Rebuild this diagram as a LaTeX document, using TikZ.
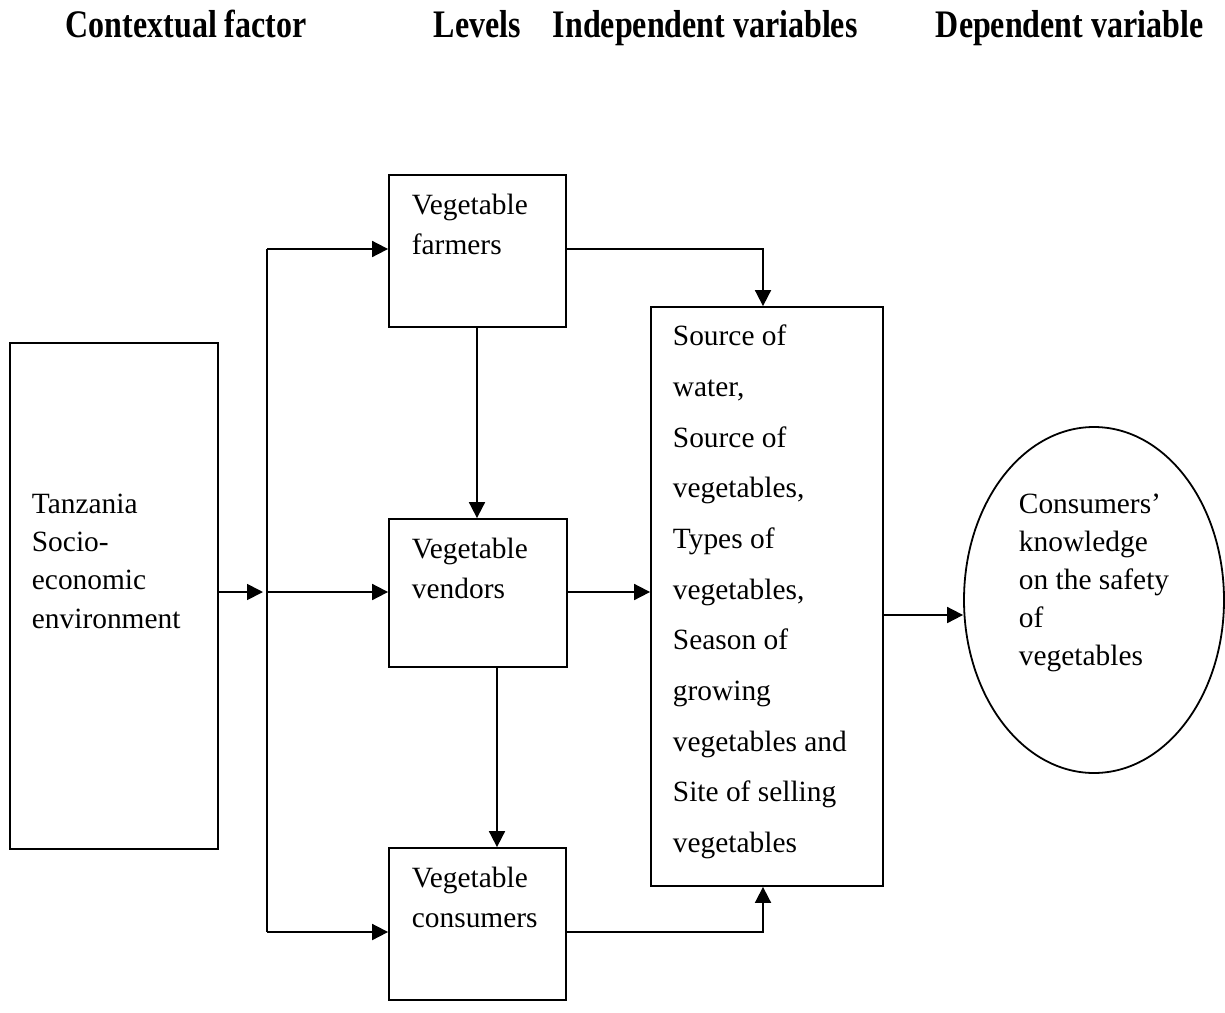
\documentclass[tikz,border=0pt]{standalone}
\usepackage{fontspec}
\setmainfont{Liberation Serif}
\newfontfamily\hdrfont{Liberation Serif}[FakeStretch=0.82]
\usetikzlibrary{arrows.meta,shapes.geometric}

\begin{document}
\begin{tikzpicture}[x=0.5pt,y=-0.5pt,line width=0.9pt,
    box/.style={draw, rectangle, inner sep=0},
    txt/.style={anchor=north west, inner sep=0, align=left},
    hdr/.style={anchor=base west, inner sep=0, font=\hdrfont\bfseries\fontsize{19.5}{20}\selectfont},
    arr/.style={-{Triangle[length=8pt,width=8pt]}}]
    \useasboundingbox (0,0) rectangle (1225,1012);
    % column titles
    \node[hdr] (h0) at (65,37.5) {Contextual factor};
    \node[hdr] (h1) at (433,37.5) {Levels};
    \node[hdr] (h2) at (552,37.5) {Independent variables};
    \node[hdr] (h3) at (935,37.5) {Dependent variable};
    % boxes
    \node[box, minimum width=104pt, minimum height=253pt] (0) at (114,596) {};
    \node[box, minimum width=88.5pt, minimum height=76pt] (1) at (477.5,251) {};
    \node[box, minimum width=89pt, minimum height=74pt] (2) at (478,593) {};
    \node[box, minimum width=88.5pt, minimum height=76pt] (3) at (477.5,924) {};
    \node[box, minimum width=116pt, minimum height=289.5pt] (4) at (767,596.5) {};
    \node[draw, ellipse, inner sep=0, minimum width=130pt, minimum height=173pt] (5) at (1094,600) {};
    % texts
    \node[txt, font=\fontsize{14.7}{19.15}\selectfont] (t0) at (31,493) {Tanzania\\Socio-\\economic\\environment};
    \node[txt, font=\fontsize{14.7}{20}\selectfont] (t1) at (411,193) {Vegetable\\farmers};
    \node[txt, font=\fontsize{14.7}{20}\selectfont] (t2) at (411,537) {Vegetable\\vendors};
    \node[txt, font=\fontsize{14.7}{20}\selectfont] (t3) at (411,866) {Vegetable\\consumers};
    \node[txt, font=\fontsize{14.7}{25.35}\selectfont] (t4) at (672,324) {Source of\\water,\\Source of\\vegetables,\\Types of\\vegetables,\\Season of\\growing\\vegetables and\\Site of selling\\vegetables};
    \node[txt, font=\fontsize{14.7}{19}\selectfont] (t5) at (1018,493) {Consumers’\\knowledge\\on the safety\\of\\vegetables};
    % connectors
    \coordinate (6) at (267,249);
    \coordinate (7) at (267,592);
    \coordinate (8) at (267,932);
    \coordinate (9) at (763,249);
    \coordinate (10) at (763,932);
    \coordinate (11) at (497,0);
    \coordinate (12) at (0,615);
    \coordinate (13) at (477,0);
    \draw (6) -- (8);
    \draw[arr, shorten >=2pt] (0.east |- 7) -- (7);
    \draw[arr] (6) -- (1.west |- 6);
    \draw[arr] (7) -- (2.west |- 7);
    \draw[arr] (8) -- (3.west |- 8);
    \draw[arr] (1.south -| 13) -- (2.north -| 13);
    \draw[arr] (2.south -| 11) -- (3.north -| 11);
    \draw[arr] (1.east |- 9) -- (9) -- (9 |- 4.north);
    \draw[arr] (2.east |- 7) -- (4.west |- 7);
    \draw[arr] (3.east |- 10) -- (10) -- (10 |- 4.south);
    \draw[arr] (4.east |- 12) -- (5.west |- 12);
  \end{tikzpicture}
\end{document}
